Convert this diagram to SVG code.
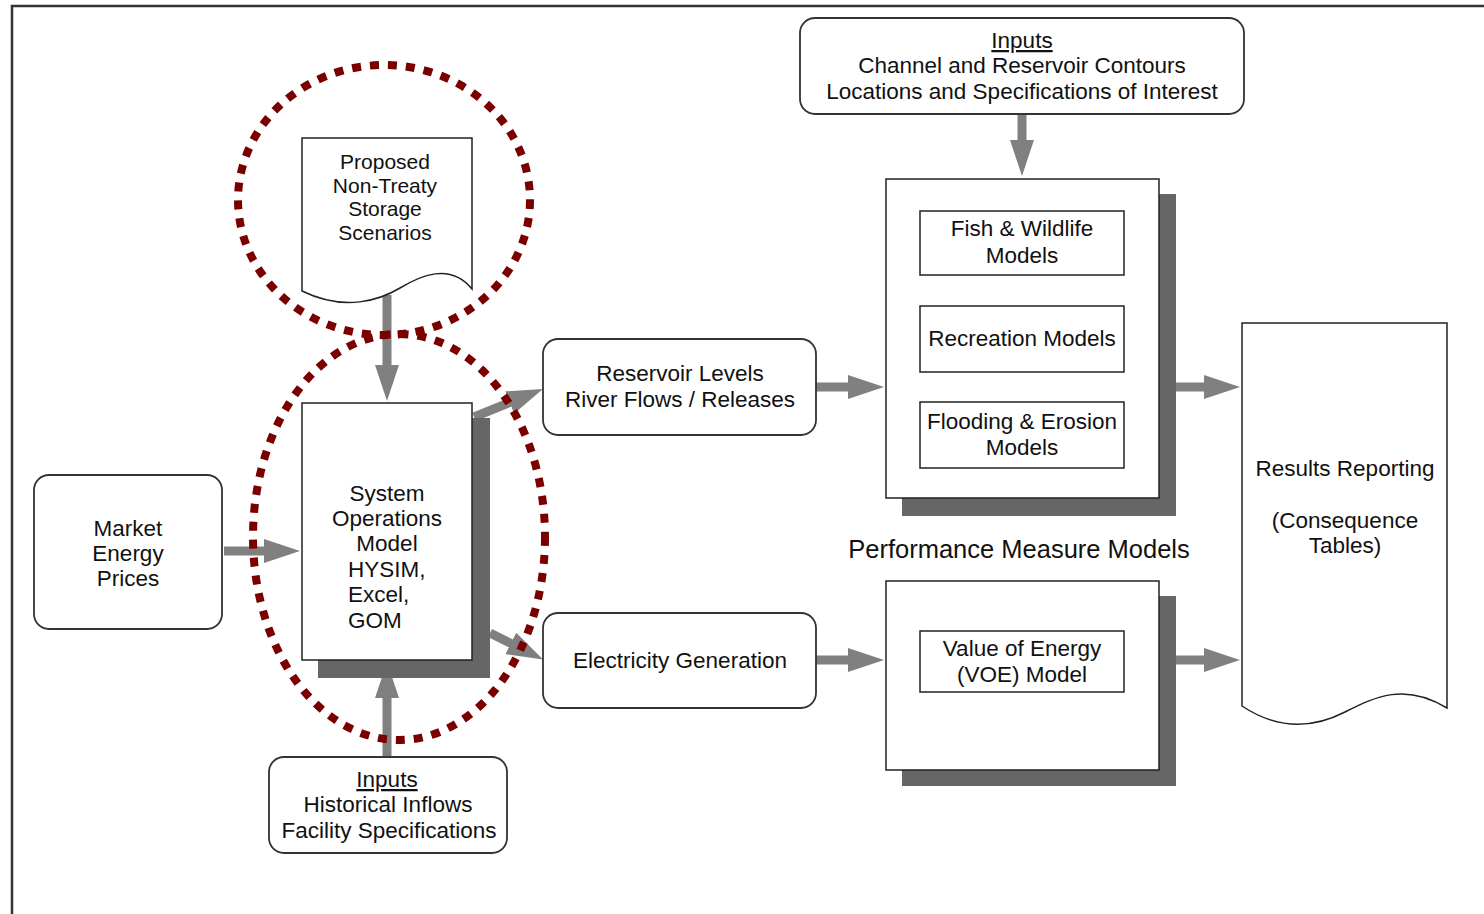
<svg xmlns="http://www.w3.org/2000/svg" width="1484" height="914" viewBox="0 0 1484 914">
<style>
  .t { font-family: "Liberation Sans", Arial, sans-serif; font-size: 22.5px; fill: #111; text-anchor: middle; }
  .ts { font-family: "Liberation Sans", Arial, sans-serif; font-size: 21px; fill: #111; text-anchor: middle; }
  .tl { font-family: "Liberation Sans", Arial, sans-serif; font-size: 22.5px; fill: #111; text-anchor: start; }
  .u { text-decoration: underline; }
  .box { fill: #fff; stroke: #222; stroke-width: 1.5; }
  .rbox { fill: #fff; stroke: #333; stroke-width: 1.8; }
  .shadow { fill: #666; }
  .conn { stroke: #808080; stroke-width: 9; fill: none; marker-end: url(#ah); }
  .ring { fill: none; stroke: #7a0000; stroke-width: 8; stroke-dasharray: 9 9; }
</style>
<defs>
  <marker id="ah" viewBox="0 0 36 24" refX="8" refY="12" markerWidth="36" markerHeight="24" markerUnits="userSpaceOnUse" orient="auto">
    <path d="M0,0 L36,12 L0,24 Z" fill="#808080"/>
  </marker>
</defs>
<rect width="1484" height="914" fill="#fff"/>
<rect x="12" y="6" width="1500" height="930" fill="none" stroke="#333" stroke-width="2.5"/>

<g id="connectors">
  <line class="conn" x1="387" y1="295" x2="387" y2="373"/>
  <line class="conn" x1="224" y1="551" x2="272" y2="551"/>
  <line class="conn" x1="387" y1="757" x2="387" y2="690"/>
  <line class="conn" x1="474" y1="417" x2="517" y2="399.5"/>
  <line class="conn" x1="490" y1="633" x2="518" y2="647"/>
  <line class="conn" x1="816" y1="387" x2="856" y2="387"/>
  <line class="conn" x1="816" y1="660" x2="856" y2="660"/>
  <line class="conn" x1="1022" y1="114" x2="1022" y2="148"/>
  <line class="conn" x1="1176" y1="387" x2="1212" y2="387"/>
  <line class="conn" x1="1176" y1="660" x2="1212" y2="660"/>
</g>

<g id="proposed-scenarios">
  <path class="box" d="M302,291 L302,138 L472,138 L472,289 C450,262 420,276 400,288 C380,300 345,312 302,291 Z"/>
  <text class="ts" x="385" y="169">Proposed</text>
  <text class="ts" x="385" y="193">Non-Treaty</text>
  <text class="ts" x="385" y="216">Storage</text>
  <text class="ts" x="385" y="240">Scenarios</text>
</g>

<g id="system-operations">
  <rect class="shadow" x="318" y="418" width="172" height="260"/>
  <rect class="box" x="302" y="403" width="170" height="257"/>
  <text class="t" x="387" y="501">System</text>
  <text class="t" x="387" y="526">Operations</text>
  <text class="t" x="387" y="551">Model</text>
  <text class="tl" x="348" y="577">HYSIM,</text>
  <text class="tl" x="348" y="602">Excel,</text>
  <text class="tl" x="348" y="628">GOM</text>
</g>

<g id="market-energy">
  <rect class="rbox" x="34" y="475" width="188" height="154" rx="15"/>
  <text class="t" x="128" y="536">Market</text>
  <text class="t" x="128" y="561">Energy</text>
  <text class="t" x="128" y="586">Prices</text>
</g>

<g id="inputs-bottom">
  <rect class="rbox" x="269" y="757" width="238" height="96" rx="15"/>
  <text class="t u" x="387" y="787">Inputs</text>
  <text class="t" x="388" y="812">Historical Inflows</text>
  <text class="t" x="389" y="838">Facility Specifications</text>
</g>

<g id="reservoir-levels">
  <rect class="rbox" x="543" y="339" width="273" height="96" rx="15"/>
  <text class="t" x="680" y="381">Reservoir Levels</text>
  <text class="t" x="680" y="407">River Flows / Releases</text>
</g>

<g id="electricity">
  <rect class="rbox" x="543" y="613" width="273" height="95" rx="15"/>
  <text class="t" x="680" y="668">Electricity Generation</text>
</g>

<g id="inputs-top">
  <rect class="rbox" x="800" y="18" width="444" height="96" rx="15"/>
  <text class="t u" x="1022" y="48">Inputs</text>
  <text class="t" x="1022" y="73">Channel and Reservoir Contours</text>
  <text class="t" x="1022" y="99">Locations and Specifications of Interest</text>
</g>

<g id="performance-upper">
  <rect class="shadow" x="902" y="194" width="274" height="322"/>
  <rect class="box" x="886" y="179" width="273" height="319"/>
  <g id="fish-wildlife">
    <rect class="box" x="920" y="211" width="204" height="64"/>
    <text class="t" x="1022" y="236">Fish &amp; Wildlife</text>
    <text class="t" x="1022" y="263">Models</text>
  </g>
  <g id="recreation">
    <rect class="box" x="920" y="306" width="204" height="66"/>
    <text class="t" x="1022" y="346">Recreation Models</text>
  </g>
  <g id="flooding">
    <rect class="box" x="920" y="402" width="204" height="66"/>
    <text class="t" x="1022" y="429">Flooding &amp; Erosion</text>
    <text class="t" x="1022" y="455">Models</text>
  </g>
</g>

<g id="performance-label">
  <text class="t" x="1019" y="558" style="font-size:25.5px">Performance Measure Models</text>
</g>

<g id="performance-lower">
  <rect class="shadow" x="902" y="596" width="274" height="190"/>
  <rect class="box" x="886" y="581" width="273" height="189"/>
  <g id="voe">
    <rect class="box" x="920" y="631" width="204" height="61"/>
    <text class="t" x="1022" y="656">Value of Energy</text>
    <text class="t" x="1022" y="682">(VOE) Model</text>
  </g>
</g>

<g id="results-reporting">
  <path class="box" d="M1242,706 L1242,323 L1447,323 L1447,708 C1405,682 1375,697 1345,712 C1310,730 1275,728 1242,706 Z"/>
  <text class="t" x="1345" y="476">Results Reporting</text>
  <text class="t" x="1345" y="528">(Consequence</text>
  <text class="t" x="1345" y="553">Tables)</text>
</g>

<g id="highlight-rings">
  <ellipse class="ring" cx="384" cy="200" rx="146" ry="135"/>
  <ellipse class="ring" cx="399" cy="537" rx="146" ry="203"/>
</g>
</svg>
